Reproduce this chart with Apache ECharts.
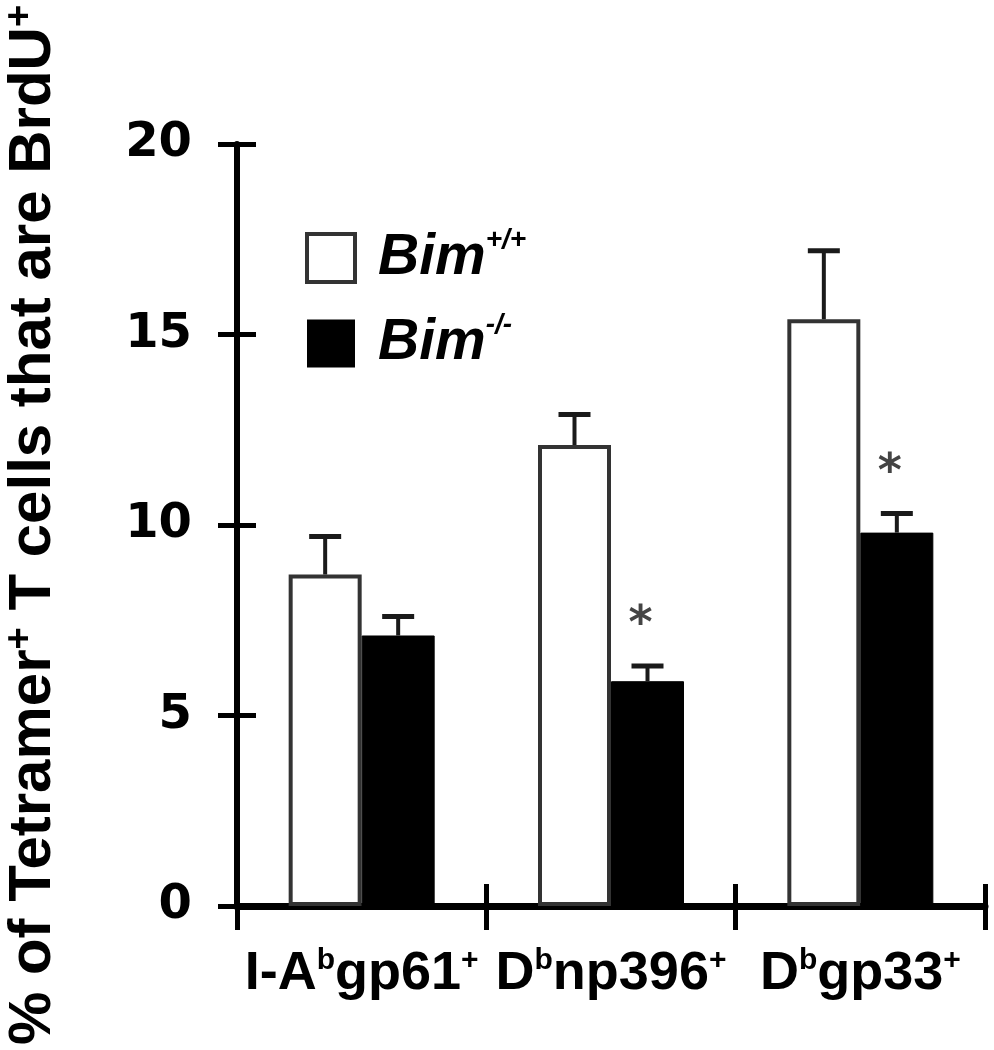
<!DOCTYPE html>
<html><head><meta charset="utf-8">
<script src="https://cdn.jsdelivr.net/npm/echarts@6/dist/echarts.min.js"></script>
<style>html,body{margin:0;padding:0;background:#fff}#c{width:994px;height:1050px}</style>
</head><body><div id="c"></div>
<script>
// ---- data (superscripts marked as ^{...}) ----
const categories = ['I-A^{b}gp61^{+}', 'D^{b}np396^{+}', 'D^{b}gp33^{+}'];
const seriesNames = ['Bim^{+/+}', 'Bim^{-/-}'];
const wildType = [8.7, 12.1, 15.4];
const wildTypeUpper = [9.7, 12.9, 17.2];
const knockout = [7.1, 5.9, 9.8];
const knockoutUpper = [7.6, 6.3, 10.3];
const knockoutSignificant = [false, true, true];
const yMin = 0, yMax = 20, yInterval = 5;
const yAxisTitle = '% of Tetramer^{+} T cells that are BrdU^{+}';

// ---- helpers ----
function toRich(str, base, sup) {
  let out = '{' + base + '|' + str.replace(/\^\{([^}]*)\}/g, '}{' + sup + '|$1}{' + base + '|') + '}';
  return out.replace(new RegExp('\\{' + base + '\\|\\}', 'g'), '');
}
const BAR_W = 73;
const ARIAL = '"Liberation Sans", Arial, sans-serif';

function errorSeries(vals, uppers, sig, side) {
  return {
    type: 'custom',
    xAxisIndex: 0, yAxisIndex: 0,
    z: 10,
    silent: true,
    data: vals.map((v, i) => [i, v, uppers[i], sig && sig[i] ? 1 : 0]),
    encode: { x: 0, y: [1, 2] },
    renderItem(params, api) {
      const base = api.coord([api.value(0), api.value(1)]);
      const top = api.coord([api.value(0), api.value(2)]);
      const x = base[0] + side * BAR_W / 2;
      const children = [
        { type: 'line', shape: { x1: x, y1: base[1], x2: x, y2: top[1] }, style: { stroke: '#1a1a1a', lineWidth: 4 } },
        { type: 'line', shape: { x1: x - 16, y1: top[1], x2: x + 16, y2: top[1] }, style: { stroke: '#1a1a1a', lineWidth: 5 } }
      ];
      if (api.value(3)) {
        children.push({
          type: 'text',
          x: x - 7, y: top[1] - 40,
          style: { text: '*', fill: '#444', font: 'bold 46px "DejaVu Sans"', align: 'center', verticalAlign: 'middle', textAlign: 'center', textVerticalAlign: 'middle' }
        });
      }
      return { type: 'group', children };
    }
  };
}

const chart = echarts.init(document.getElementById('c'), null, { renderer: 'canvas' });
const tickStyle = { color: '#000', width: 5 };
chart.setOption({
  animation: false,
  backgroundColor: '#fff',
  grid: { left: 237, right: 9, top: 144, bottom: 144, containLabel: false, outerBoundsMode: 'none' },
  legend: {
    orient: 'vertical', left: 305, top: 226, padding: 0,
    itemWidth: 48, itemHeight: 48, itemGap: 25, icon: 'rect',
    selectedMode: false,
    data: [
      { name: seriesNames[0], itemStyle: { color: '#fff', borderColor: '#333', borderWidth: 4 } },
      { name: seriesNames[1], itemStyle: { color: '#000', borderColor: '#000', borderWidth: 0 } }
    ],
    formatter: name => toRich(name, 'i', 's'),
    textStyle: {
      rich: {
        i: { fontFamily: ARIAL, fontWeight: 'bold', fontStyle: 'italic', fontSize: 57, color: '#000', lineHeight: 48, height: 48, padding: [0, 0, 0, 18] },
        s: { fontFamily: ARIAL, fontWeight: 'bold', fontStyle: 'italic', fontSize: 28, color: '#000', lineHeight: 10, height: 12, verticalAlign: 'top' }
      }
    }
  },
  xAxis: [
    {
      type: 'category', data: categories, boundaryGap: true,
      axisLine: { show: true, lineStyle: { color: '#000', width: 7 } },
      axisTick: { show: true, inside: false, length: 24, lineStyle: tickStyle },
      axisLabel: {
        margin: 40, interval: 0,
        formatter: v => toRich(v, 'b', 's'),
        rich: {
          b: { fontFamily: ARIAL, fontWeight: 'bold', fontSize: 54, color: '#000', lineHeight: 56 },
          s: { fontFamily: ARIAL, fontWeight: 'bold', fontSize: 30, color: '#000', lineHeight: 14, verticalAlign: 'top' }
        }
      },
      splitLine: { show: false }
    },
    {
      type: 'category', data: categories, boundaryGap: true, position: 'bottom',
      axisLine: { show: false },
      axisTick: { show: true, inside: true, length: 22, lineStyle: tickStyle },
      axisLabel: { show: false }, splitLine: { show: false }
    }
  ],
  yAxis: [
    {
      type: 'value', min: yMin, max: yMax, interval: yInterval,
      axisLine: { show: true, lineStyle: { color: '#000', width: 6 } },
      axisTick: { show: true, inside: false, length: 19, lineStyle: tickStyle },
      axisLabel: { margin: 45, fontFamily: '"DejaVu Sans"', fontWeight: 'bold', fontSize: 48, color: '#000' },
      splitLine: { show: false },
      name: toRich(yAxisTitle, 'n', 'p'),
      nameLocation: 'middle', nameRotate: 90, nameGap: 173,
      nameTextStyle: {
        rich: {
          n: { fontFamily: ARIAL, fontWeight: 'bold', fontSize: 60, color: '#000', lineHeight: 62 },
          p: { fontFamily: ARIAL, fontWeight: 'bold', fontSize: 38, color: '#000', lineHeight: 16, verticalAlign: 'top' }
        }
      }
    },
    {
      type: 'value', min: yMin, max: yMax, interval: yInterval, position: 'left',
      axisLine: { show: false },
      axisTick: { show: true, inside: true, length: 19, lineStyle: tickStyle },
      axisLabel: { show: false }, splitLine: { show: false }
    }
  ],
  series: [
    { type: 'bar', name: seriesNames[0], data: wildType, barWidth: BAR_W, barGap: '0%',
      itemStyle: { color: '#fff', borderColor: '#333', borderWidth: 4 } },
    { type: 'bar', name: seriesNames[1], data: knockout, barWidth: BAR_W, barGap: '0%',
      itemStyle: { color: '#000', borderColor: '#000', borderWidth: 1 } },
    errorSeries(wildType, wildTypeUpper, null, -1),
    errorSeries(knockout, knockoutUpper, knockoutSignificant, 1)
  ]
});
</script></body></html>
